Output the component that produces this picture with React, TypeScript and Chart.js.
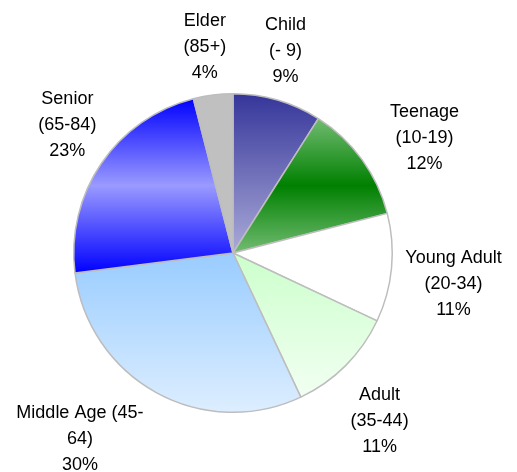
import React, { useEffect, useRef } from "react";
import { Chart, registerables } from "chart.js";

Chart.register(...registerables);

const categories = ["Child", "Teenage", "Young Adult", "Adult", "Middle Age", "Senior", "Elder"];
const labelLines = [
  ["Child", "(- 9)"],
  ["Teenage", "(10-19)"],
  ["Young Adult", "(20-34)"],
  ["Adult", "(35-44)"],
  ["Middle Age (45-", "64)"],
  ["Senior", "(65-84)"],
  ["Elder", "(85+)"],
];
const shares = [9, 12, 11, 11, 30, 23, 4];

// gradient stops (top -> bottom of each slice's bounding box)
const sliceStops: string[][] = [
  ["#35359a", "#aaaad8"],
  ["#72bc72", "#008000", "#72bc72"],
  ["#ffffff", "#ffffff"],
  ["#ccffcc", "#f2fff2"],
  ["#99ccff", "#ddeeff"],
  ["#0000ff", "#9a9aff", "#0000ff"],
  ["#c0c0c0", "#c0c0c0"],
];

// label layout nudges (px) applied after generic outside placement
const labelNudge: [number, number][] = [
  [-1, 0],
  [25, 9],
  [2, 11],
  [5, 19],
  [-40, 2],
  [0, -10],
  [-4, 3],
];

const FONT = '18px "Liberation Sans", Arial, sans-serif';
const LINE_H = 26;

function sliceGradient(ctx: any) {
  const chart = ctx.chart;
  const i = ctx.dataIndex;
  const ca = chart.chartArea;
  const stops = sliceStops[i] || ["#ccc", "#ccc"];
  if (!ca || i === undefined) return stops[0];
  const cx = (ca.left + ca.right) / 2;
  const cy = (ca.top + ca.bottom) / 2;
  const r = Math.min(ca.right - ca.left, ca.bottom - ca.top) / 2;
  const total = shares.reduce((a, b) => a + b, 0);
  let before = 0;
  for (let k = 0; k < i; k++) before += shares[k];
  const a0 = -Math.PI / 2 + (before / total) * 2 * Math.PI;
  const a1 = a0 + (shares[i] / total) * 2 * Math.PI;
  const ys = [cy, cy + r * Math.sin(a0), cy + r * Math.sin(a1)];
  const inRange = (a: number) => {
    for (let t = -2; t <= 2; t++) {
      const aa = a + t * 2 * Math.PI;
      if (aa >= a0 && aa <= a1) return true;
    }
    return false;
  };
  if (inRange(-Math.PI / 2)) ys.push(cy - r);
  if (inRange(Math.PI / 2)) ys.push(cy + r);
  const y0 = Math.min(...ys);
  const y1 = Math.max(...ys);
  const g = chart.ctx.createLinearGradient(0, y0, 0, y1);
  stops.forEach((c, k) => g.addColorStop(k / (stops.length - 1), c));
  return g;
}

const labelPlugin = {
  id: "outsideLabels",
  afterDraw(chart: any) {
    const meta = chart.getDatasetMeta(0);
    const ctx = chart.ctx;
    ctx.save();
    ctx.font = FONT;
    ctx.fillStyle = "#000000";
    ctx.textAlign = "center";
    ctx.textBaseline = "middle";
    meta.data.forEach((arc: any, i: number) => {
      const { x, y, startAngle, endAngle, outerRadius } = arc.getProps(
        ["x", "y", "startAngle", "endAngle", "outerRadius"],
        true
      );
      const mid = (startAngle + endAngle) / 2;
      const ux = Math.cos(mid);
      const uy = Math.sin(mid);
      const lines = [...labelLines[i], shares[i] + "%"];
      const w = Math.max(...lines.map((l) => ctx.measureText(l).width));
      const hw = w / 2;
      const hh = (lines.length * LINE_H) / 2;
      const d = outerRadius + 12;
      const lx = x + d * ux + hw * ux + labelNudge[i][0];
      const ly = y + d * uy + hh * uy + labelNudge[i][1];
      lines.forEach((l, k) => {
        ctx.fillText(l, lx, ly + (k - (lines.length - 1) / 2) * LINE_H);
      });
    });
    ctx.restore();
  },
};

export default function App() {
  const ref = useRef<HTMLCanvasElement | null>(null);
  useEffect(() => {
    document.body.style.margin = "0";
    const canvas = ref.current!;
    const chart = new Chart(canvas, {
      type: "pie",
      data: {
        labels: categories,
        datasets: [
          {
            data: shares,
            backgroundColor: sliceGradient as any,
            borderColor: "#bdbdbd",
            borderWidth: 1.5,
          },
        ],
      },
      options: {
        responsive: false,
        animation: false,
        devicePixelRatio: 1,
        layout: { padding: { left: 73, top: 93, right: 124, bottom: 59 } },
        plugins: {
          legend: { display: false },
          tooltip: { enabled: false },
        },
      },
      plugins: [labelPlugin],
    });
    return () => chart.destroy();
  }, []);
  return (
    <div style={{ position: "absolute", left: 0, top: 0, width: 517, height: 472, background: "#fff" }}>
      <canvas ref={ref} width={517} height={472} />
    </div>
  );
}
